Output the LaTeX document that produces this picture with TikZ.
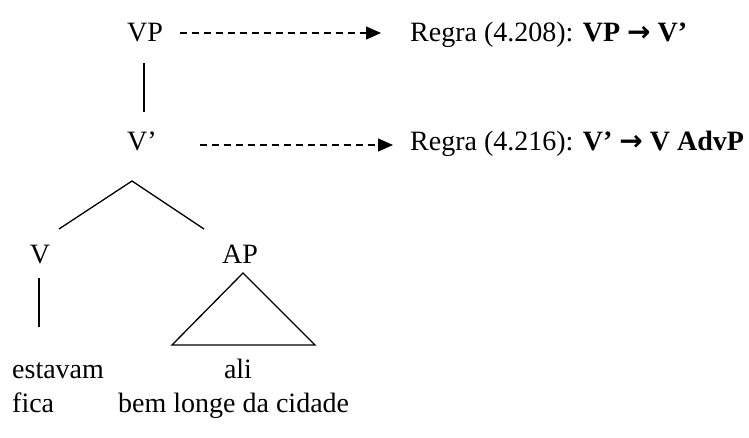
\documentclass[tikz,border=0pt]{standalone}
\usepackage{fontspec}
\setmainfont{Liberation Serif}
\newfontfamily\arrowfont{DejaVu Sans}
\usetikzlibrary{arrows.meta}

\tikzset{
  word/.style={inner sep=0pt, font=\fontsize{28}{32}\selectfont},
  rulearrow/.style={line width=1.3pt, dash pattern=on 7pt off 5pt,
    -{Triangle[length=15pt,width=13pt]}},
  branch/.style={line width=1.3pt}
}
\newcommand{\ruleto}{\textbf{\arrowfont\fontsize{28}{30}\selectfont →}}

\begin{document}
\begin{tikzpicture}[x=1pt,y=-1pt]
  \useasboundingbox (0,0) rectangle (749,438);

  % categories of the tree
  \node[word,anchor=base] (vp)   at (145,42)  {VP};
  \node[word,anchor=base] (vbar) at (142,151) {V’};
  \node[word,anchor=base] (v)    at (40,263)  {V};
  \node[word,anchor=base] (ap)   at (240,263) {AP};

  % words under the tree
  \node[word,anchor=base west] (estavam) at (12,378)  {estavam};
  \node[word,anchor=base]      (ali)     at (238,378) {ali};
  \node[word,anchor=base west] (fica)    at (12,412)  {fica};
  \node[word,anchor=base west] (bem)     at (118,412) {bem longe da cidade};

  % rules on the right
  \node[word,anchor=base west] (rule1) at (410,42)
    {Regra (4.208): \textbf{VP \ruleto\ V’}};
  \node[word,anchor=base west] (rule2) at (410,151)
    {Regra (4.216): \textbf{V’ \ruleto\ V AdvP}};

  % dashed arrows to the rules
  \coordinate (a1) at (180,33);
  \coordinate (b1) at (381,33);
  \coordinate (a2) at (200,145);
  \coordinate (b2) at (393,145);
  \draw[rulearrow] (a1) -- (b1);
  \draw[rulearrow] (a2) -- (b2);

  % tree lines
  \coordinate (vpbot)   at (144,63);
  \coordinate (vbartop) at (144,112);
  \coordinate (top)   at (132,181);
  \coordinate (left)  at (59,229);
  \coordinate (right) at (204,229);
  \coordinate (vbot1) at (39,278);
  \coordinate (vbot2) at (39,327);
  \draw[branch] (vpbot) -- (vbartop);
  \draw[branch] (left) -- (top) -- (right);
  \draw[branch] (vbot1) -- (vbot2);

  % triangle for AP
  \coordinate (tri)  at (243,273);
  \coordinate (triR) at (315,345);
  \coordinate (triL) at (172,345);
  \draw[branch] (tri) -- (triR) -- (triL) -- cycle;
\end{tikzpicture}
\end{document}
